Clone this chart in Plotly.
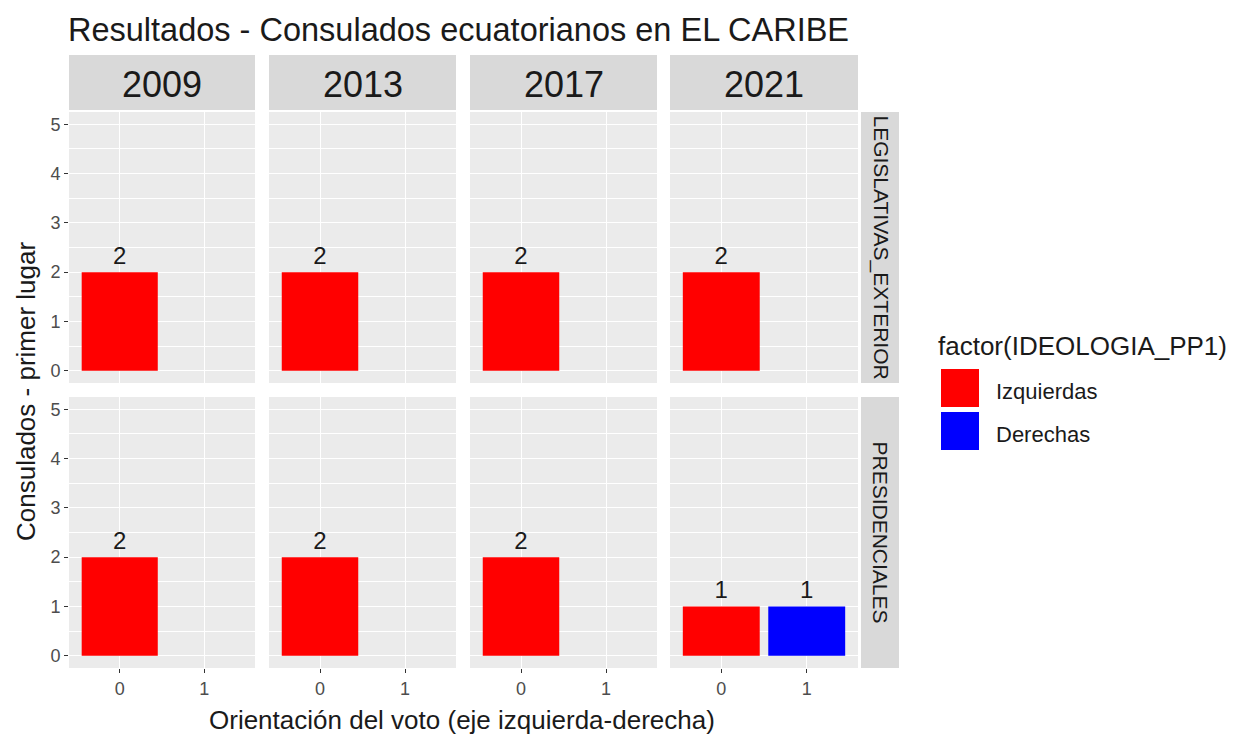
import plotly.graph_objects as go

# --- data -------------------------------------------------------------
anios = ["2009", "2013", "2017", "2021"]
elecciones = ["LEGISLATIVAS_EXTERIOR", "PRESIDENCIALES"]
orientacion = [0, 1]  # 0 = Izquierdas, 1 = Derechas
ideologias = ["Izquierdas", "Derechas"]

izq_legislativas = [2, 2, 2, 2]
izq_presidenciales = [2, 2, 2, 1]
der_legislativas = [0, 0, 0, 0]
der_presidenciales = [0, 0, 0, 1]

y_ticks = [0, 1, 2, 3, 4, 5]

COLORES = {"Izquierdas": "#FF0000", "Derechas": "#0000FF"}

# page body has an 8px margin, so the figure is drawn a bit smaller
OFF = 8
W, H = 1244 - OFF, 736 - OFF
FONT = "Arial, Liberation Sans, sans-serif"

# pixel boxes (in window coords) of the facet panels
cols_px = [(69, 255), (269, 456), (470, 657), (670, 858)]
rows_px = [(112, 383), (397, 668)]


def px_x(p):
    return (p - OFF) / W


def px_y(p):
    return 1 - (p - OFF) / H


series = {
    ("Izquierdas", 0): izq_legislativas,
    ("Izquierdas", 1): izq_presidenciales,
    ("Derechas", 0): der_legislativas,
    ("Derechas", 1): der_presidenciales,
}

fig = go.Figure()
layout_axes = {}
for r, (y0, y1) in enumerate(rows_px):
    for c, (x0, x1) in enumerate(cols_px):
        i = r * 4 + c + 1
        xa = "x" if i == 1 else f"x{i}"
        ya = "y" if i == 1 else f"y{i}"
        for k, ideo in enumerate(ideologias):
            v = series[(ideo, r)][c]
            if v <= 0:
                continue
            fig.add_trace(go.Bar(
                x=[orientacion[k]], y=[v], width=0.9,
                marker=dict(color=COLORES[ideo], line_width=0),
                text=[str(v)], textposition="outside", cliponaxis=False,
                textfont=dict(size=24, color="#1A1A1A", family=FONT),
                name=ideo, showlegend=False, xaxis=xa, yaxis=ya,
            ))
        layout_axes[f"xaxis{'' if i == 1 else i}"] = dict(
            domain=[px_x(x0), px_x(x1)], anchor=ya, range=[-0.6, 1.6],
            tickvals=orientacion, ticktext=[str(o) for o in orientacion],
            showticklabels=(r == 1), ticks="outside" if r == 1 else "",
            ticklen=4, tickcolor="#333333", tickwidth=1,
            gridcolor="white", gridwidth=1.2, zeroline=False, showline=False,
            tickfont=dict(size=18, color="#4D4D4D", family=FONT), fixedrange=True,
        )
        layout_axes[f"yaxis{'' if i == 1 else i}"] = dict(
            domain=[px_y(y1), px_y(y0)], anchor=xa, range=[-0.25, 5.25],
            tickvals=y_ticks, showticklabels=(c == 0),
            ticks="outside" if c == 0 else "", ticklen=4, tickcolor="#333333",
            tickwidth=1, gridcolor="white", gridwidth=1.2, zeroline=False,
            showline=False, tickfont=dict(size=18, color="#4D4D4D", family=FONT),
            minor=dict(tickvals=[0.5, 1.5, 2.5, 3.5, 4.5], showgrid=True,
                       gridcolor="white", gridwidth=0.6, ticks=""),
            fixedrange=True,
        )


def label(x, y, text, size, angle=0, xanchor="center"):
    return dict(xref="paper", yref="paper", x=px_x(x), y=px_y(y), text=text,
                textangle=angle, showarrow=False, xanchor=xanchor,
                yanchor="middle", font=dict(size=size, color="#1A1A1A", family=FONT))


shapes = []
annotations = []
# top strips (years)
for c, (x0, x1) in enumerate(cols_px):
    shapes.append(dict(type="rect", xref="paper", yref="paper",
                       x0=px_x(x0), x1=px_x(x1), y0=px_y(110), y1=px_y(55),
                       fillcolor="#D9D9D9", line_width=0, layer="below"))
    annotations.append(label((x0 + x1) / 2, 85, anios[c], 36))
# right strips (election type)
for r, (y0, y1) in enumerate(rows_px):
    shapes.append(dict(type="rect", xref="paper", yref="paper",
                       x0=px_x(861), x1=px_x(899), y0=px_y(y1), y1=px_y(y0),
                       fillcolor="#D9D9D9", line_width=0, layer="below"))
    annotations.append(label(880, (y0 + y1) / 2, elecciones[r], 21, angle=90))

# legend drawn as keys + labels
annotations.append(label(936, 346, "factor(IDEOLOGIA_PP1)", 26, xanchor="left"))
for k, ideo in enumerate(ideologias):
    top = 369 + k * 43
    shapes.append(dict(type="rect", xref="paper", yref="paper",
                       x0=px_x(941), x1=px_x(979), y0=px_y(top + 38), y1=px_y(top),
                       fillcolor=COLORES[ideo], line_width=0))
    annotations.append(label(994, top + 22, ideo, 22, xanchor="left"))

# axis titles and main title
annotations.append(label(462, 720, "Orientación del voto (eje izquierda-derecha)", 26))
annotations.append(label(26, 392, "Consulados - primer lugar", 26, angle=-90))
annotations.append(label(66, 30, "Resultados - Consulados ecuatorianos en EL CARIBE",
                         32.5, xanchor="left"))

fig.update_layout(
    width=W, height=H,
    margin=dict(l=0, r=0, t=0, b=0),
    paper_bgcolor="white", plot_bgcolor="#EBEBEB",
    showlegend=False, shapes=shapes, annotations=annotations,
    font=dict(family=FONT),
    **layout_axes,
)

fig.write_html("out.html")
